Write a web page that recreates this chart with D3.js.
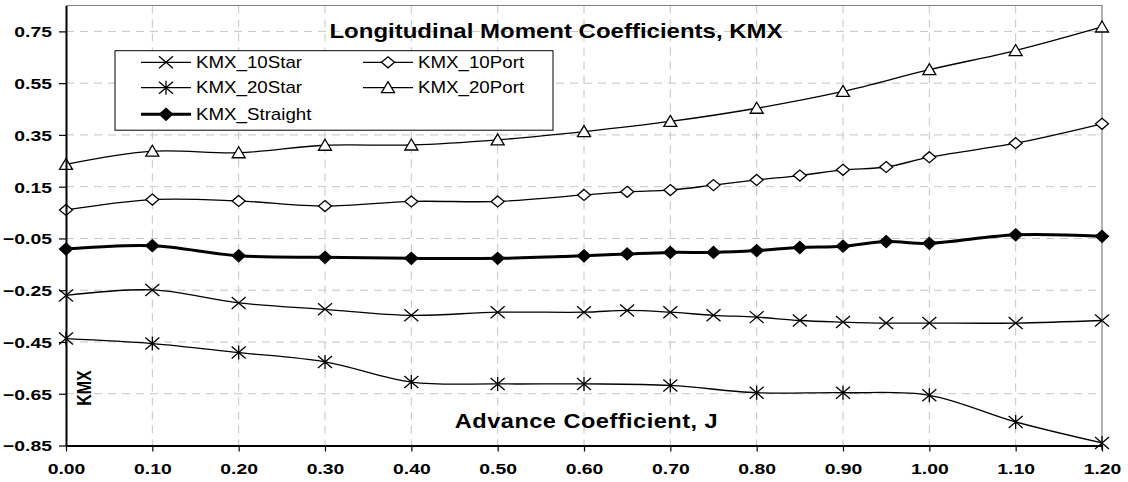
<!DOCTYPE html>
<html>
<head>
<meta charset="utf-8">
<script src="https://cdn.jsdelivr.net/npm/d3@7"></script>
<style>
  body { margin: 0; background: #fff; }
  text { font-family: "Liberation Sans", Arial, sans-serif; fill: #000; }
</style>
</head>
<body>
<div class="chart-container"></div>
<script>
// advance coefficient J values
const jFine = [0, 0.1, 0.2, 0.3, 0.4, 0.5, 0.6, 0.65, 0.7, 0.75, 0.8, 0.85, 0.9, 0.95, 1.0, 1.1, 1.2];
const jCoarse = [0, 0.1, 0.2, 0.3, 0.4, 0.5, 0.6, 0.7, 0.8, 0.9, 1.0, 1.1, 1.2];

// KMX values
const kmx10Star = [-0.27, -0.249, -0.299, -0.324, -0.347, -0.335, -0.335, -0.328, -0.335, -0.347, -0.354, -0.367, -0.373, -0.377, -0.377, -0.377, -0.367];
const kmx10Port = [0.06, 0.10, 0.095, 0.075, 0.093, 0.093, 0.118, 0.13, 0.137, 0.156, 0.176, 0.193, 0.215, 0.226, 0.264, 0.318, 0.393];
const kmxStraight = [-0.091, -0.078, -0.117, -0.123, -0.127, -0.127, -0.117, -0.110, -0.104, -0.104, -0.097, -0.085, -0.080, -0.062, -0.069, -0.036, -0.042];
const kmx20Star = [-0.437, -0.456, -0.491, -0.527, -0.605, -0.612, -0.612, -0.618, -0.646, -0.646, -0.656, -0.759, -0.84];
const kmx20Port = [0.236, 0.287, 0.281, 0.31, 0.311, 0.331, 0.363, 0.402, 0.453, 0.518, 0.602, 0.676, 0.767];

const xTicks = [0, 0.1, 0.2, 0.3, 0.4, 0.5, 0.6, 0.7, 0.8, 0.9, 1.0, 1.1, 1.2];
const yTicks = [-0.85, -0.65, -0.45, -0.25, -0.05, 0.15, 0.35, 0.55, 0.75];

const chartTitle = "Longitudinal Moment Coefficients, KMX";
const xTitle = "Advance Coefficient, J";
const yTitle = "KMX";

const series = [
    { name: "KMX_10Star", j: jFine, v: kmx10Star, marker: "x", width: 1.3 },
    { name: "KMX_10Port", j: jFine, v: kmx10Port, marker: "diamondOpen", width: 1.3 },
    { name: "KMX_20Star", j: jCoarse, v: kmx20Star, marker: "star", width: 1.3 },
    { name: "KMX_20Port", j: jCoarse, v: kmx20Port, marker: "triangle", width: 1.3 },
    { name: "KMX_Straight", j: jFine, v: kmxStraight, marker: "diamondFilled", width: 3 }
];

const margin = { top: 5.5, right: 26, bottom: 36.5, left: 66 },
      width = 1128 - margin.left - margin.right,
      height = 482 - margin.top - margin.bottom;

const svg = d3.select(".chart-container").append("svg")
    .attr("width", 1128)
    .attr("height", 482);

const g = svg.append("g")
    .attr("transform", "translate(" + margin.left + "," + margin.top + ")");

const x = d3.scaleLinear().domain([0, 1.2]).range([0, width]);
const y = d3.scaleLinear().domain([-0.85, 0.85]).range([height, 0]);

// dashed grid
g.append("g").selectAll("line")
    .data(yTicks)
    .join("line")
    .attr("x1", 0).attr("x2", width)
    .attr("y1", d => y(d)).attr("y2", d => y(d))
    .attr("stroke", "#c4c4c4").attr("stroke-width", 1)
    .attr("stroke-dasharray", "8,6");

g.append("g").selectAll("line")
    .data(xTicks.slice(1, -1))
    .join("line")
    .attr("x1", d => x(d)).attr("x2", d => x(d))
    .attr("y1", 0).attr("y2", height)
    .attr("stroke", "#c4c4c4").attr("stroke-width", 1)
    .attr("stroke-dasharray", "8,6");

// plot frame (top / right)
g.append("path")
    .attr("d", "M0,0H" + width + "V" + height)
    .attr("fill", "none")
    .attr("stroke", "#808080")
    .attr("stroke-width", 1.2);

// marker shapes
function markerPath(type) {
    switch (type) {
        case "x": return "M-7,-6L7,6M-7,6L7,-6";
        case "star": return "M-7,-6L7,6M-7,6L7,-6M0,-7V7";
        case "diamondOpen": return "M0,-5.5L6.5,0L0,5.5L-6.5,0Z";
        case "diamondFilled": return "M0,-6L6.5,0L0,6L-6.5,0Z";
        case "triangle": return "M0,-6L6.5,5L-6.5,5Z";
    }
}
function markerFill(type) {
    return type === "diamondFilled" ? "#000" : (type === "x" || type === "star") ? "none" : "#fff";
}

const line = d3.line()
    .x(d => x(d.j))
    .y(d => y(d.v))
    .curve(d3.curveCatmullRom.alpha(0.5));

series.forEach(s => {
    const pts = s.j.map((j, i) => ({ j: j, v: s.v[i] }));

    g.append("path")
        .datum(pts)
        .attr("d", line)
        .attr("fill", "none")
        .attr("stroke", "#000")
        .attr("stroke-width", s.width);

    g.append("g").selectAll("path")
        .data(pts)
        .join("path")
        .attr("transform", d => "translate(" + x(d.j) + "," + y(d.v) + ")")
        .attr("d", markerPath(s.marker))
        .attr("fill", markerFill(s.marker))
        .attr("stroke", "#000")
        .attr("stroke-width", 1.3);
});

// axes
const yAxis = g.append("g")
    .call(d3.axisLeft(y).tickValues(yTicks).tickSize(7).tickSizeOuter(0).tickFormat(d3.format(".2f")));
yAxis.select(".domain").attr("stroke", "#000").attr("stroke-width", 2);
yAxis.selectAll(".tick line").attr("stroke", "#000").attr("stroke-width", 1.2);
yAxis.selectAll(".tick text")
    .attr("x", null).attr("dy", "0.36em")
    .attr("transform", "translate(-14,0) scale(1.29,1)")
    .attr("text-anchor", "end")
    .style("font-size", "15px").style("font-weight", "bold")
    .style("font-family", "'Liberation Sans', Arial, sans-serif");

const xAxis = g.append("g")
    .attr("transform", "translate(0," + height + ")")
    .call(d3.axisBottom(x).tickValues(xTicks).tickSize(6).tickSizeOuter(0).tickFormat(d3.format(".2f")));
xAxis.select(".domain").attr("stroke", "#000").attr("stroke-width", 2);
xAxis.selectAll(".tick line").attr("stroke", "#000").attr("stroke-width", 1.2);
xAxis.selectAll(".tick text")
    .attr("y", null).attr("dy", null)
    .attr("transform", "translate(0,28.5) scale(1.29,1)")
    .style("font-size", "15px").style("font-weight", "bold")
    .style("font-family", "'Liberation Sans', Arial, sans-serif");

// titles
svg.append("text")
    .attr("transform", "translate(556,38.3) scale(1.2,1)")
    .attr("text-anchor", "middle")
    .style("font-size", "20px").style("font-weight", "bold")
    .text(chartTitle);

svg.append("text")
    .attr("transform", "translate(586.5,428.3) scale(1.18,1)")
    .attr("text-anchor", "middle")
    .style("font-size", "20px").style("font-weight", "bold")
    .style("letter-spacing", "0.4px")
    .text(xTitle);

svg.append("text")
    .attr("transform", "translate(91,388) scale(1.3,1) rotate(-90)")
    .attr("text-anchor", "middle")
    .style("font-size", "16px").style("font-weight", "bold")
    .text(yTitle);

// legend
const legend = svg.append("g");
legend.append("rect")
    .attr("x", 115).attr("y", 50.7)
    .attr("width", 438).attr("height", 79.5)
    .attr("fill", "#fff")
    .attr("stroke", "#000").attr("stroke-width", 1);

const legendCols = [141, 363];
const legendRows = [62.3, 87.7, 114.3];
const legendOrder = ["KMX_10Star", "KMX_10Port", "KMX_20Star", "KMX_20Port", "KMX_Straight"];

legendOrder.forEach((name, i) => {
    const s = series.find(d => d.name === name);
    const lx = legendCols[i % 2], ly = legendRows[Math.floor(i / 2)];
    const item = legend.append("g").attr("transform", "translate(" + lx + "," + ly + ")");
    item.append("line")
        .attr("x1", 0).attr("x2", 50)
        .attr("stroke", "#000").attr("stroke-width", s.width);
    item.append("path")
        .attr("transform", "translate(25,0)")
        .attr("d", markerPath(s.marker))
        .attr("fill", markerFill(s.marker))
        .attr("stroke", "#000").attr("stroke-width", 1.3);
    item.append("text")
        .attr("transform", "translate(55,0) scale(1.17,1)")
        .attr("dy", "0.36em")
        .style("font-size", "16px")
        .text(s.name);
});
</script>
</body>
</html>
